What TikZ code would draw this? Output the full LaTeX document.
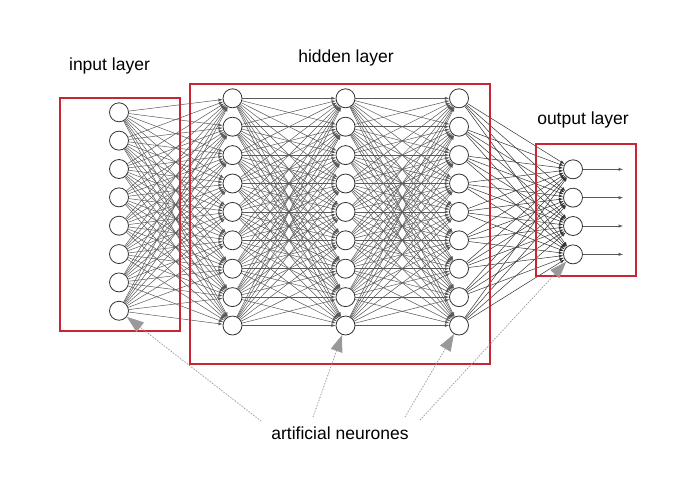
\documentclass[tikz,border=0pt]{standalone}
\usepackage{fontspec}
\setmainfont{Liberation Sans}
\usetikzlibrary{positioning,arrows.meta}
\definecolor{boxred}{RGB}{200,38,52}

\begin{document}
\begin{tikzpicture}[x=1pt,y=-1pt]
    \tikzset{neuron/.style={
        circle, draw=black!80, fill=white, line width=0.8pt, minimum size=19pt, inner sep=0pt
      },
      link/.style={-latex, draw=black!65, line width=0.5pt},
      layerbox/.style={draw=boxred, line width=2pt},
      caption/.style={font=\fontsize{17.5}{20}\selectfont},
      pointer/.style={-{Triangle[length=17pt,width=12pt]}, draw=black!40, fill=black!40, dotted, line width=0.9pt}
    }
    \useasboundingbox (0,0) rectangle (676,496);

    % neurons
    \foreach \i in {1,...,8}
      \node[neuron] (I-\i) at (119, {112.3+(\i-1)*28.35}) {};
    \foreach \l/\x in {1/232.5, 2/345.5, 3/459}
      \foreach \i in {1,...,9}
        \node[neuron] (H\l-\i) at (\x, {98.3+(\i-1)*28.4}) {};
    \foreach \i in {1,...,4}
      \node[neuron] (O-\i) at (573, {169.3+(\i-1)*28.35}) {};

    % connections
    \foreach \i in {1,...,8}
      \foreach \j in {1,...,9}
        \draw[link] (I-\i) -- (H1-\j);
    \foreach \l/\m in {1/2, 2/3}
      \foreach \i in {1,...,9}
        \foreach \j in {1,...,9}
          \draw[link] (H\l-\i) -- (H\m-\j);
    \foreach \i in {1,...,9}
      \foreach \j in {1,...,4}
        \draw[link, draw=black!80] (H3-\i) -- (O-\j);
    \foreach \i in {1,...,4} {
      \coordinate (Y-\i) at ([xshift=50pt]O-\i.center);
      \draw[link] (O-\i) -- (Y-\i);
    }

    % layer boxes
    \draw[layerbox] (60,98) rectangle (180,331);
    \draw[layerbox] (189.5,84) rectangle (490,363.5);
    \draw[layerbox] (536,144) rectangle (635.5,275.5);

    \node[caption] (inlabel) at (109.5,66) {input layer};
    \node[caption] (hidlabel) at (346,58) {hidden layer};
    \node[caption] (outlabel) at (583,120) {output layer};
    \node[caption] (neurlabel) at (340,433) {artificial neurones};

    \coordinate (p1) at (261,421);
    \coordinate (p2) at (313,417);
    \coordinate (p3) at (405,417);
    \coordinate (p4) at (420,420);
    \draw[pointer] (p1) -- (I-8);
    \draw[pointer] (p2) -- (H2-9);
    \draw[pointer] (p3) -- (H3-9);
    \draw[pointer] (p4) -- (O-4);
\end{tikzpicture}
\end{document}
